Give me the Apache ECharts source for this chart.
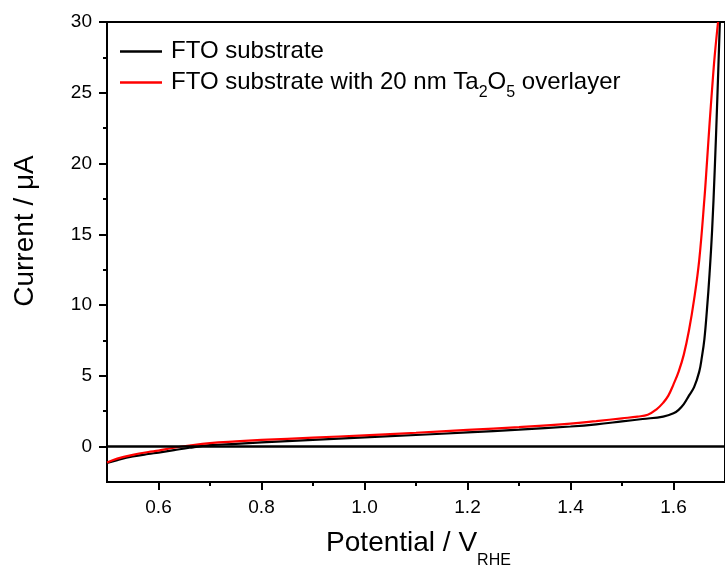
<!DOCTYPE html>
<html>
<head>
<meta charset="utf-8">
<script src="https://cdn.jsdelivr.net/npm/echarts@6/dist/echarts.min.js"></script>
<style>
  html, body { margin: 0; padding: 0; background: #fff; }
  #chart { width: 725px; height: 569px; }
</style>
</head>
<body>
<div id="chart"></div>
<script>
// Linear sweep: current vs. potential for bare FTO and FTO with a Ta2O5 overlayer
const ftoPotential = [0.50, 0.52, 0.55, 0.58, 0.60, 0.63, 0.66, 0.70, 0.75, 0.80, 0.90, 1.00, 1.10, 1.20, 1.30, 1.40, 1.45, 1.50, 1.54, 1.58, 1.60, 1.61, 1.62, 1.63, 1.64, 1.65, 1.655, 1.66, 1.665, 1.67, 1.675, 1.68, 1.685, 1.69];
const ftoCurrent   = [-1.15, -0.95, -0.70, -0.52, -0.42, -0.25, -0.08, 0.10, 0.20, 0.30, 0.48, 0.65, 0.82, 1.00, 1.20, 1.42, 1.57, 1.78, 1.95, 2.12, 2.35, 2.60, 3.00, 3.60, 4.20, 5.30, 6.30, 7.60, 9.70, 12.2, 15.3, 19.5, 24.5, 30.0];

const taPotential = [0.50, 0.52, 0.55, 0.58, 0.60, 0.63, 0.66, 0.70, 0.75, 0.80, 0.90, 1.00, 1.10, 1.20, 1.30, 1.40, 1.45, 1.50, 1.53, 1.55, 1.567, 1.58, 1.59, 1.60, 1.61, 1.62, 1.63, 1.64, 1.65, 1.66, 1.665, 1.67, 1.675, 1.68, 1.6865];
const taCurrent   = [-1.13, -0.85, -0.58, -0.38, -0.28, -0.08, 0.08, 0.25, 0.37, 0.47, 0.63, 0.80, 0.98, 1.18, 1.38, 1.62, 1.80, 2.00, 2.12, 2.25, 2.63, 3.10, 3.60, 4.40, 5.30, 6.50, 8.20, 10.4, 13.2, 17.5, 20.1, 22.8, 25.3, 27.6, 30.0];

const seriesNames = ['FTO substrate', 'FTO substrate with 20 nm Ta2O5 overlayer'];

// Tick positions
const xMajorTicks = [0.6, 0.8, 1.0, 1.2, 1.4, 1.6];
const xMinorTicks = [0.7, 0.9, 1.1, 1.3, 1.5];
const yMajorTicks = [0, 5, 10, 15, 20, 25, 30];
const yMinorTicks = [2.5, 7.5, 12.5, 17.5, 22.5, 27.5];

const FONT = '"Liberation Sans", Arial, sans-serif';

const pairs = (xs, ys) => xs.map((x, i) => [x, ys[i]]);

const chart = echarts.init(document.getElementById('chart'), null, { renderer: 'canvas' });

const axisCommon = {
  type: 'value',
  splitLine: { show: false },
  axisLine: { onZero: false, lineStyle: { color: '#000', width: 2 } }
};

// subscript token: top padding moves the glyphs down by half its value
const subStyle = (size, padTop) => ({
  fontFamily: FONT, fontSize: size, lineHeight: size, color: '#000', fill: '#000',
  padding: [padTop, 0, 0, 0]
});

chart.setOption({
  animation: false,
  backgroundColor: '#fff',
  grid: {
    left: 107, top: 22, right: -6, bottom: 87,
    show: true, borderColor: '#000', borderWidth: 2, backgroundColor: 'transparent'
  },
  legend: {
    orient: 'vertical',
    left: 120, top: 39.5, padding: 0,
    itemWidth: 42, itemHeight: 2.5, itemGap: 0.5,
    icon: 'rect',
    selectedMode: false,
    data: seriesNames,
    formatter: name => name === seriesNames[1]
      ? '{m|FTO substrate with 20 nm Ta}{s|2}{m|O}{s|5}{m| overlayer}'
      : '{m|' + name + '}',
    textStyle: {
      padding: [0, 0, 0, 4],
      rich: {
        m: { fontFamily: FONT, fontSize: 24, lineHeight: 24, color: '#000' },
        s: subStyle(16, 21)
      }
    }
  },
  xAxis: [
    Object.assign({}, axisCommon, {
      min: 0.5, max: 1.7, position: 'bottom',
      axisTick: { show: true, inside: false, length: 8, customValues: xMajorTicks, lineStyle: { color: '#000', width: 2 } },
      axisLabel: {
        customValues: xMajorTicks, margin: 16,
        fontFamily: FONT, fontSize: 19, color: '#000',
        formatter: v => v.toFixed(1)
      }
    }),
    Object.assign({}, axisCommon, {
      min: 0.5, max: 1.7, position: 'bottom',
      axisLine: { show: false, onZero: false },
      axisTick: { show: true, inside: false, length: 4, customValues: xMinorTicks, lineStyle: { color: '#000', width: 2 } },
      axisLabel: { show: false }
    })
  ],
  yAxis: [
    Object.assign({}, axisCommon, {
      min: -2.5, max: 30, position: 'left',
      axisTick: { show: true, inside: false, length: 8, customValues: yMajorTicks, lineStyle: { color: '#000', width: 2 } },
      axisLabel: {
        customValues: yMajorTicks, margin: 15,
        fontFamily: FONT, fontSize: 19, color: '#000'
      }
    }),
    Object.assign({}, axisCommon, {
      min: -2.5, max: 30, position: 'left',
      axisLine: { show: false, onZero: false },
      axisTick: { show: true, inside: false, length: 4, customValues: yMinorTicks, lineStyle: { color: '#000', width: 2 } },
      axisLabel: { show: false }
    })
  ],
  series: [
    {
      name: seriesNames[0],
      type: 'line',
      data: pairs(ftoPotential, ftoCurrent),
      showSymbol: false,
      smooth: 0.4,
      lineStyle: { color: '#000', width: 2.2 },
      itemStyle: { color: '#000' },
      z: 2,
      markLine: {
        silent: true,
        symbol: 'none',
        label: { show: false },
        lineStyle: { color: '#000', width: 2.5, type: 'solid' },
        data: [{ yAxis: 0 }]
      }
    },
    {
      name: seriesNames[1],
      type: 'line',
      data: pairs(taPotential, taCurrent),
      showSymbol: false,
      smooth: 0.4,
      lineStyle: { color: '#ff0000', width: 2.2 },
      itemStyle: { color: '#ff0000' },
      z: 3
    }
  ],
  graphic: [
    {
      type: 'text',
      x: 418.5, y: 543.5,
      style: {
        text: '{a|Potential / V}{s|RHE}',
        align: 'center', verticalAlign: 'middle',
        rich: {
          a: { fontFamily: FONT, fontSize: 28, lineHeight: 28, fill: '#000' },
          s: subStyle(16, 34)
        }
      }
    },
    {
      type: 'text',
      x: 25, y: 231,
      rotation: Math.PI / 2,
      style: {
        text: 'Current / μA',
        font: '28px ' + FONT,
        fill: '#000',
        align: 'center', verticalAlign: 'middle'
      }
    }
  ]
});
</script>
</body>
</html>
